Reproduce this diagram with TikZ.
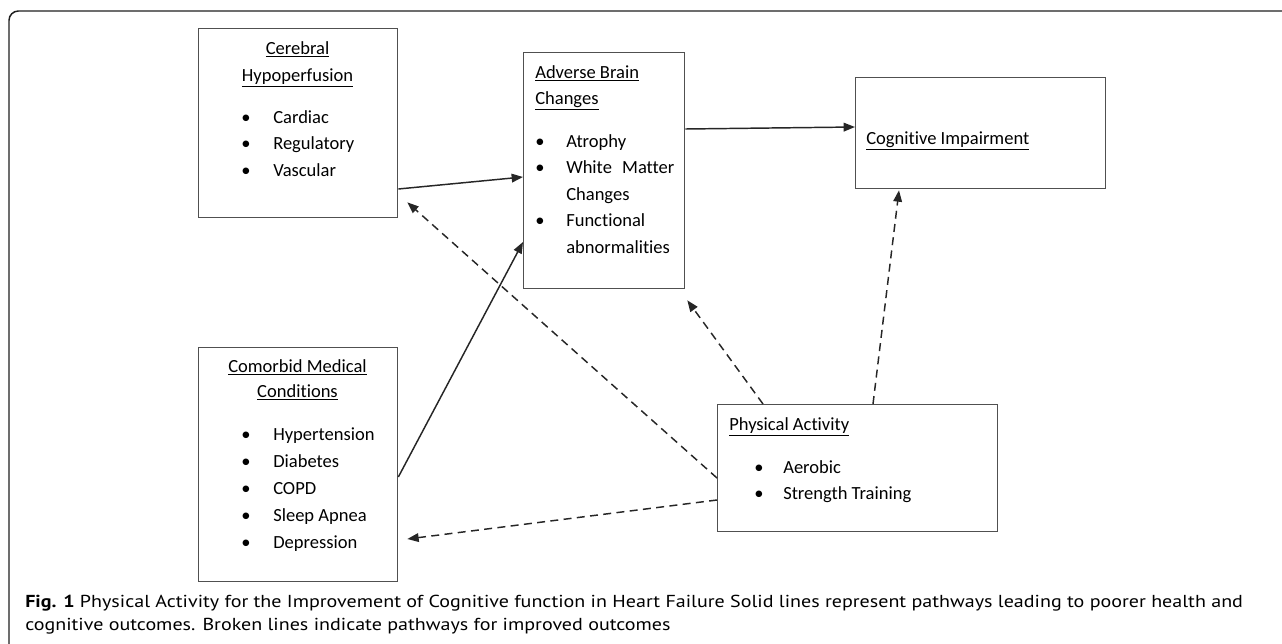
\documentclass[tikz,border=0pt]{standalone}
\usepackage{fontspec}
\setmainfont{Carlito}[Ligatures=NoCommon]
\newfontfamily\capfont{PT Sans}
\usetikzlibrary{calc,positioning,arrows.meta}
\definecolor{boxline}{HTML}{505050}
\definecolor{frameline}{HTML}{1E1E1E}
\newcommand{\hd}[1]{\underline{#1}}

\begin{document}
\begin{tikzpicture}[x=0.75pt,y=-0.75pt,
  box/.style={draw=boxline,line width=1pt,inner sep=0pt,anchor=north west},
  txt/.style={inner sep=0pt,anchor=base west,font=\fontsize{13.9}{20}\selectfont},
  headc/.style={txt,anchor=base},
  dot/.style={txt,anchor=base},
  captxt/.style={txt,font=\capfont\fontsize{13}{16}\selectfont},
  pathway/.style={-{Triangle[length=8.5pt,width=6.5pt]},line width=1.1pt,draw=black!85},
  improve/.style={pathway,dash pattern=on 6pt off 4pt}]
\useasboundingbox (0,0) rectangle (1282,643);
\draw[frameline,line width=1.1pt,rounded corners=7] (9,650) -- (9,11) -- (1290,11);

% boxes
\node[box,minimum width=199*0.75pt,minimum height=189*0.75pt] (cereb) at (198,28) {};
\node[box,minimum width=161*0.75pt,minimum height=236*0.75pt] (adverse) at (523,52) {};
\node[box,minimum width=250*0.75pt,minimum height=111*0.75pt] (cognit) at (855,77) {};
\node[box,minimum width=199*0.75pt,minimum height=234*0.75pt] (comorb) at (198,347) {};
\node[box,minimum width=280*0.75pt,minimum height=127*0.75pt] (physact) at (717,404) {};

% Cerebral Hypoperfusion
\node[headc] (cerebh1) at (297.5,54) {\hd{Cerebral}};
\node[headc] (cerebh2) at (297.5,81) {\hd{Hypoperfusion}};
\foreach \t [count=\i from 0] in {Cardiac,Regulatory,Vascular}{
  \node[dot] (cerebb\i) at (246,123+26.8*\i) {\textbullet};
  \node[txt] (cerebi\i) at (273,123+26.8*\i) {\t};
}

% Adverse Brain Changes
\node[txt] (adverseh1) at (535,78) {\hd{Adverse Brain}};
\node[txt] (adverseh2) at (535,104) {\hd{Changes}};
\foreach \i in {0,1,3}
  \node[dot] (adverseb\i) at (540,147+26.5*\i) {\textbullet};
\foreach \t [count=\i from 0] in {Atrophy,White\hspace{0.55em}Matter,Changes,Functional,abnormalities}
  \node[txt] (adversei\i) at (566,147+26.5*\i) {\t};

% Cognitive Impairment
\node[txt] (cognith) at (866,144) {\hd{Cognitive Impairment}};

% Comorbid Medical Conditions
\node[headc] (comorbh1) at (297.5,372) {\hd{Comorbid Medical}};
\node[headc] (comorbh2) at (297.5,397) {\hd{Conditions}};
\foreach \t [count=\i from 0] in {Hypertension,Diabetes,COPD,Sleep Apnea,Depression}{
  \node[dot] (comorbb\i) at (246,440+27*\i) {\textbullet};
  \node[txt] (comorbi\i) at (273,440+27*\i) {\t};
}

% Physical Activity
\node[txt] (physacth) at (729,430) {\hd{Physical Activity}};
\foreach \t [count=\i from 0] in {Aerobic,Strength Training}{
  \node[dot] (physactb\i) at (759,473+26.5*\i) {\textbullet};
  \node[txt] (physacti\i) at (783,473+26.5*\i) {\t};
}

% solid pathways
\draw[pathway] ($(cereb.north east)+(0,161)$) -- ($(adverse.north west)+(0,125)$);
\draw[pathway] ($(adverse.north east)+(0,77)$) -- ($(cognit.north west)+(0,50)$);
\draw[pathway] ($(comorb.north east)+(0,130)$) -- ($(adverse.north west)+(0,190)$);

% broken pathways
\draw[improve] ($(physact.north west)+(0,74)$) -- ($(cereb.south east)+(9,-16)$);
\draw[improve] ($(physact.north west)+(0,96)$) -- ($(comorb.north east)+(9,192)$);
\draw[improve] ($(physact.north west)+(46,0)$) -- ($(adverse.south east)+(2,11)$);
\draw[improve] ($(physact.north west)+(156,0)$) -- ($(cognit.south west)+(44,1)$);

% caption
\node[captxt] (cap1) at (25,607)
  {\scalebox{1.156}[1]{\textbf{Fig. 1} Physical Activity for the Improvement of Cognitive function in Heart Failure Solid lines represent pathways leading to poorer health and}};
\node[captxt] (cap2) at (25,630)
  {\scalebox{1.156}[1]{cognitive outcomes. Broken lines indicate pathways for improved outcomes}};
\end{tikzpicture}
\end{document}
